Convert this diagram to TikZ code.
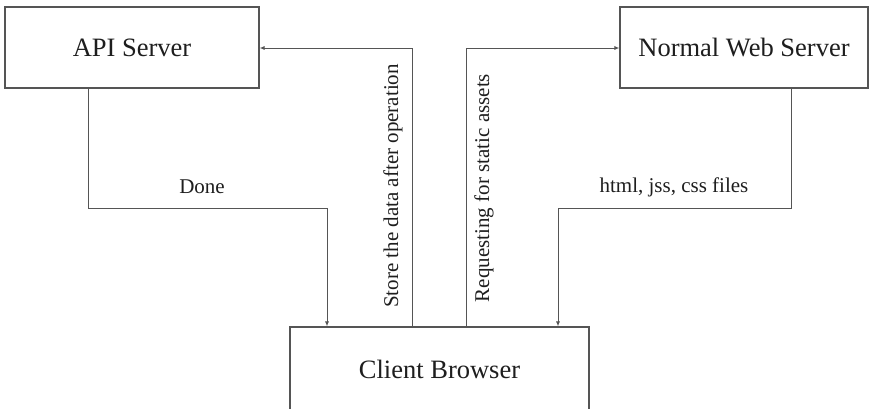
\documentclass[tikz,border=0pt]{standalone}
\usepackage{fontspec}
\setmainfont{Liberation Serif}
\usetikzlibrary{arrows.meta}
\definecolor{linegray}{HTML}{555555}
\definecolor{textgray}{HTML}{1e1e1e}
\begin{document}
\begin{tikzpicture}[x=1pt,y=-1pt,
  box/.style={draw=linegray, line width=1.1pt, fill=white, text=textgray, inner sep=0pt, font=\fontsize{26.5}{30}\selectfont},
  lbl/.style={text=textgray, inner sep=0pt, font=\fontsize{21}{24}\selectfont},
  conn/.style={draw=linegray, line width=0.9pt},
  arr/.style={conn, -{Latex[length=5pt,width=4pt]}}]
\useasboundingbox (0,0) rectangle (870,408);
\node[box, minimum width=254pt, minimum height=81pt] (api) at (132,47.5) {API Server};
\node[box, minimum width=248pt, minimum height=81pt] (web) at (744,47.5) {Normal Web Server};
\node[box, minimum width=299pt, minimum height=85pt, text depth=0pt] (client) at (439.5,369.5) {Client Browser};
% bends
\coordinate (a1) at (88,208);
\coordinate (a2) at (327,208);
\coordinate (w1) at (791,208);
\coordinate (w2) at (558,208);
\coordinate (s1) at (412,48);
\coordinate (r1) at (466,48);
% connectors
\draw[arr] (api.south -| a1) -- (a1) -- (a2) -- (a2 |- client.north);
\draw[arr] (web.south -| w1) -- (w1) -- (w2) -- (w2 |- client.north);
\draw[arr] (client.north -| s1) -- (s1) -- (api.east |- s1);
\draw[arr] (client.north -| r1) -- (r1) -- (web.west |- r1);
% labels
\node[lbl] (done) at (202,187) {Done};
\node[lbl] (files) at (674,187) {html, jss, css files};
\node[lbl, rotate=90] (store) at (393,186) {Store the data after operation};
\node[lbl, rotate=90] (req) at (484,188) {Requesting for static assets};
\end{tikzpicture}
\end{document}
